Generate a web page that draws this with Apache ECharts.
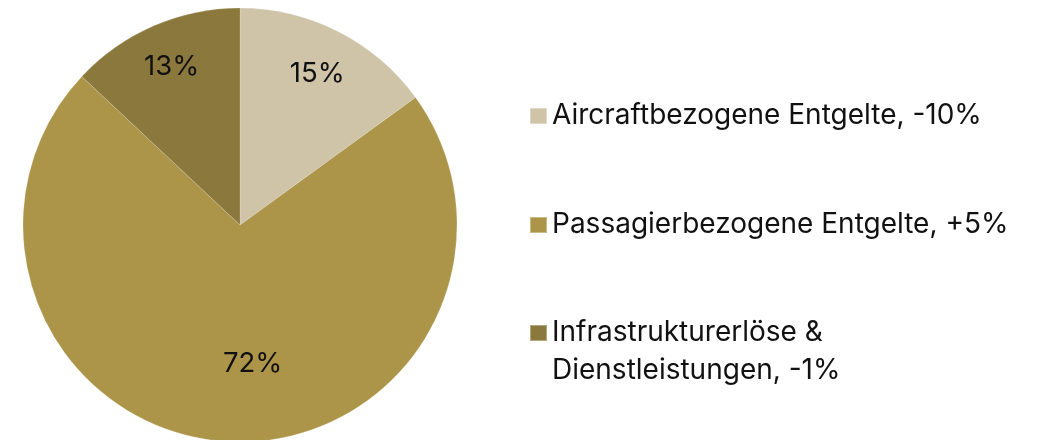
<!DOCTYPE html>
<html>
<head>
<meta charset="utf-8">
<script src="https://cdn.jsdelivr.net/npm/echarts@6/dist/echarts.min.js"></script>
<style>
html,body{margin:0;padding:0;background:#fff;}
#main{width:1040px;height:440px;}
</style>
</head>
<body>
<div id="main"></div>
<script>
// Anteile der Erlöse
var names = ['Aircraftbezogene Entgelte, -10%', 'Passagierbezogene Entgelte, +5%', 'Infrastrukturerlöse & Dienstleistungen, -1%'];
var legendText = ['Aircraftbezogene Entgelte, -10%', 'Passagierbezogene Entgelte, +5%', '\nInfrastrukturerlöse &\nDienstleistungen, -1%'];
var shares = [15, 72, 13];
var colors = ['#CFC3A8', '#AC9549', '#8B783C'];
// wie weit außen das Label steht (Anteil vom Radius) + kleine Drehung in Grad
var labelPos = [0.77, 0.63, 0.78];
var labelTurn = [0, -9, 0];

var R = 217;
var chart = echarts.init(document.getElementById('main'));

var total = shares.reduce(function(a, b) { return a + b; }, 0);
var acc = 0;
var pieData = [];
for (var i = 0; i < shares.length; i++) {
    var mid = (acc + shares[i] / 2) / total * Math.PI * 2;
    var turned = mid + labelTurn[i] * Math.PI / 180;
    acc += shares[i];
    var r = labelPos[i] * R;
    pieData.push({
        name: names[i],
        value: shares[i],
        itemStyle: { color: colors[i] },
        label: { offset: [Math.sin(turned) * r - Math.sin(mid) * R / 2, -Math.cos(turned) * r + Math.cos(mid) * R / 2] }
    });
}

var legendTops = [92, 201, 271];
var legends = [];
for (var j = 0; j < names.length; j++) {
    (function(k) {
        legends.push({
            data: [names[k]],
            left: 524,
            top: legendTops[k],
            orient: 'vertical',
            icon: 'rect',
            itemWidth: 17,
            itemHeight: 16,
            itemGap: 9,
            selectedMode: false,
            formatter: function() { return legendText[k]; },
            textStyle: { fontFamily: 'Inter', fontSize: 28, color: '#111', lineHeight: 38, padding: [0, 0, 0, 0] }
        });
    })(j);
}

chart.setOption({
    animation: false,
    legend: legends,
    series: [{
        type: 'pie',
        center: [240, 225],
        radius: [0, R],
        startAngle: 90,
        clockwise: true,
        data: pieData,
        itemStyle: { borderColor: 'rgba(255,255,255,0.35)', borderWidth: 0.5 },
        label: {
            show: true,
            position: 'inside',
            formatter: '{c}%',
            fontFamily: 'Inter',
            fontSize: 27.5,
            color: '#111'
        },
        labelLine: { show: false },
        emphasis: { disabled: true }
    }]
});
</script>
</body>
</html>
